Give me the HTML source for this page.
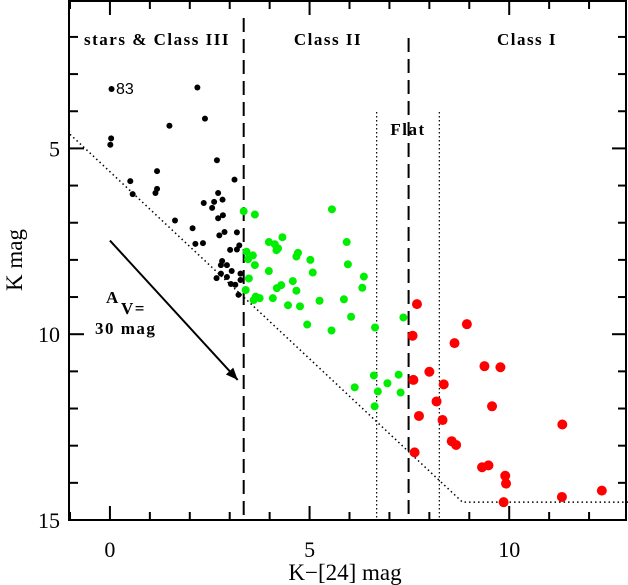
<!DOCTYPE html>
<html><head><meta charset="utf-8"><style>
html,body{margin:0;padding:0;background:#fff}
svg{display:block}
text{font-family:"Liberation Serif",serif;fill:#000}
.lbl{font-size:17px;font-weight:bold;letter-spacing:1.5px}
</style></head><body>
<svg id="chart" width="628" height="585" viewBox="0 0 628 585" xmlns="http://www.w3.org/2000/svg">
<g id="marks"></g>
<rect x="69" y="1" width="557" height="519" fill="none" stroke="#000" stroke-width="2"/>
<text class="lbl" x="157" y="45" text-anchor="middle">stars &amp; Class III</text>
<text class="lbl" x="328" y="45" text-anchor="middle">Class II</text>
<text class="lbl" x="408" y="135" text-anchor="middle">Flat</text>
<text class="lbl" x="527" y="45" text-anchor="middle">Class I</text>
<text x="116" y="94" font-size="16" style="font-family:'Liberation Sans',sans-serif">83</text>
<text class="lbl" x="106" y="303">A</text>
<text class="lbl" x="121" y="314">V=</text>
<text class="lbl" x="95" y="334">30 mag</text>
<text x="345" y="580" font-size="23" text-anchor="middle">K−[24] mag</text>
<text transform="translate(22,260) rotate(-90)" font-size="23" text-anchor="middle">K mag</text>
</svg>
<script>
const xTickLabels = [0, 5, 10];
const yTickLabels = [5, 10, 15];
const blackX = [0.04,2.19,2.38,1.49,0.03,0.01,2.68,1.18,0.51,0.57,1.18,1.14,3.12,2.71,2.35,2.61,2.82,2.56,2.83,2.71,1.63,2.07,2.87,2.74,3.18,2.14,2.33,3.24,3.18,3.01,2.81,2.78,2.78,2.67,2.93,3.03,3.14,3.27,3.27,3.22,2.93,3.05];
const blackY = [3.40,3.36,4.20,4.39,4.73,4.90,5.32,5.61,5.88,6.23,6.09,6.20,5.84,6.20,6.47,6.44,6.38,6.60,6.80,6.88,6.94,7.15,7.25,7.34,7.26,7.57,7.55,7.61,7.72,7.73,8.03,8.14,8.37,8.49,8.46,8.65,8.67,8.37,8.54,8.94,8.14,8.30];
const greenX = [3.35,3.63,5.56,4.32,3.98,4.13,4.21,4.17,3.42,3.58,3.46,4.71,4.67,5.02,5.93,3.63,5.96,3.98,5.08,3.48,6.36,4.58,4.29,4.18,4.67,6.32,3.40,3.65,3.75,3.60,4.08,5.25,5.86,4.46,4.76,6.04,7.35,4.94,5.55,6.64,6.61,7.23,6.95,6.13,6.71,7.28,6.63];
const greenY = [6.69,6.78,6.64,7.39,7.52,7.58,7.69,7.74,7.78,7.88,7.98,7.81,7.91,8.00,7.52,8.14,8.12,8.30,8.34,8.50,8.45,8.57,8.68,8.76,8.83,8.75,8.81,8.99,9.03,9.08,9.03,9.10,9.06,9.22,9.25,9.53,9.55,9.74,9.90,9.82,11.11,11.09,11.32,11.43,11.54,11.57,11.94];
const redX = [7.69,8.94,7.58,8.63,9.38,9.78,8.00,7.60,8.36,9.57,8.18,7.74,8.33,11.33,8.56,8.67,7.63,9.32,9.48,9.90,9.92,12.32,11.32,9.86];
const redY = [9.19,9.73,10.04,10.24,10.86,10.89,11.01,11.23,11.35,11.94,11.81,12.20,12.31,12.43,12.88,12.98,13.18,13.58,13.53,13.81,14.02,14.21,14.38,14.52];
const classBoundsX = [3.35, 7.48];
const flatBoundsX = [6.68, 8.25];
const limitLineX = [-1, 8.83, 13];
const limitLineY = [4.62, 14.52, 14.52];
const arrowX = [0, 3.2];
const arrowY = [7.48, 11.23];

const X0=-1, X1=12.925, Y0=1.06, Y1=15;
function sx(v){return 70 + (v - X0) / (X1 - X0) * (626 - 70);}
function sy(v){return 2 + (v - Y0) / (Y1 - Y0) * (520 - 2);}
const NS="http://www.w3.org/2000/svg";
const g=document.getElementById('marks');
function mk(tag,attrs){const e=document.createElementNS(NS,tag);for(const k in attrs)e.setAttribute(k,attrs[k]);g.appendChild(e);return e;}

for(let v=-1;v<=13;v++){
  const x=sx(v); if(x<70||x>626) continue;
  const major = v%5===0; const L = major?14:8;
  let t=mk('line',{x1:x,x2:x,y1:520,y2:520-L,stroke:'#000','stroke-width':2});
  
  
  t=mk('line',{x1:x,x2:x,y1:1,y2:1+L,stroke:'#000','stroke-width':2});
  
  
}
for(let v=2;v<=15;v++){
  const y=sy(v); const major=v%5===0; const L=major?14:8;
  let t=mk('line',{x1:70,x2:70+L,y1:y,y2:y,stroke:'#000','stroke-width':2});
  
  
  t=mk('line',{x1:626,x2:626-L,y1:y,y2:y,stroke:'#000','stroke-width':2});
  
  
}
xTickLabels.forEach(v=>{
  const t=mk('text',{x:sx(v),y:557,'font-size':22,'text-anchor':'middle'});
  t.textContent=v;
  
  
});
yTickLabels.forEach(v=>{
  const t=mk('text',{x:60,y:sy(v)+8,'font-size':22,'text-anchor':'end'});
  t.textContent=v;
  
  
});
classBoundsX.forEach((v,i)=>{
  const l=mk('line',{x1:sx(v),x2:sx(v),y1:i===0?18:38,y2:520,stroke:'#000','stroke-width':2,'stroke-dasharray':'14,7'});
  
  
});
flatBoundsX.forEach(v=>{
  const l=mk('line',{x1:sx(v),x2:sx(v),y1:112,y2:520,stroke:'#000','stroke-width':1.2,'stroke-dasharray':'1.5,2.5'});
  
  
});
let pts=limitLineX.map((v,i)=>sx(v)+','+sy(limitLineY[i])).join(' ');
const lim=mk('polyline',{points:pts,fill:'none',stroke:'#000','stroke-width':1.5,'stroke-dasharray':'1.5,3'});


const ax1=sx(arrowX[0]),ay1=sy(arrowY[0]),ax2=sx(arrowX[1]),ay2=sy(arrowY[1]);
const arr=mk('line',{x1:ax1,y1:ay1,x2:ax2,y2:ay2,stroke:'#000','stroke-width':2});


const ang=Math.atan2(ay2-ay1,ax2-ax1);
const hp=[[ax2,ay2],[ax2-12*Math.cos(ang)+5*Math.sin(ang),ay2-12*Math.sin(ang)-5*Math.cos(ang)],[ax2-12*Math.cos(ang)-5*Math.sin(ang),ay2-12*Math.sin(ang)+5*Math.cos(ang)]];
const head=mk('polygon',{points:hp.map(p=>p.join(',')).join(' '),fill:'#000'});


function series(xs,ys,r,col,name){
  xs.forEach((v,i)=>{
    const c=mk('circle',{cx:sx(v),cy:sy(ys[i]),r:r,fill:col});
    
    
  });
}
series(blackX,blackY,3,'#000','class-iii-point');
series(greenX,greenY,4,'#00ee00','class-ii-point');
series(redX,redY,5,'#ff0000','class-i-point');
</script>
</body></html>
